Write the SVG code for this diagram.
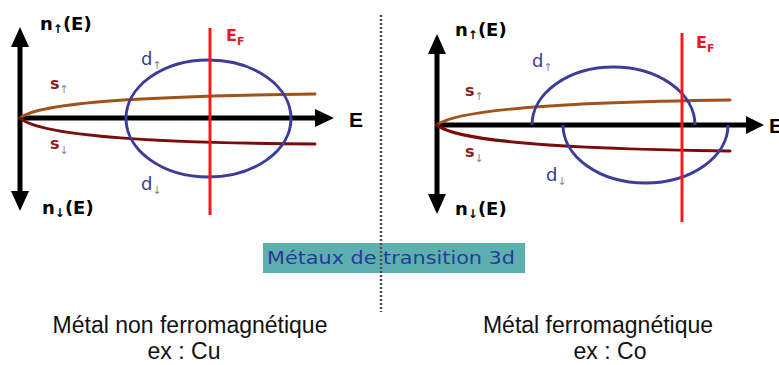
<svg xmlns="http://www.w3.org/2000/svg" width="779" height="365" viewBox="0 0 779 365">
<style>
.axis{stroke:#000;stroke-width:5;fill:none}
.head{fill:#000}
.sup{stroke:#a0521a;stroke-width:3;fill:none;stroke-linecap:round}
.sdn{stroke:#7a0c0c;stroke-width:3;fill:none;stroke-linecap:round}
.band{stroke:#3c3c9a;stroke-width:3;fill:none}
.ef{stroke:#ee1c1c;stroke-width:3}
.lab{font-family:"DejaVu Sans",sans-serif;font-weight:bold;font-size:18px;fill:#000}
.lbs{font-family:"DejaVu Sans",sans-serif;font-weight:bold;font-size:16px;fill:#8a1c1c}
.lbd{font-family:"DejaVu Sans",sans-serif;font-size:18px;fill:#3c3c9a}
.arr{font-size:11px;fill:#8a8a8a;font-weight:normal}
.arrb{font-size:12px;fill:#000;font-weight:bold}
.efl{font-family:"DejaVu Sans",sans-serif;font-weight:bold;font-size:16px;fill:#e01c1c}
.e{font-family:"Liberation Sans",sans-serif;font-weight:bold;font-size:21px;fill:#000}
.cap{font-family:"Liberation Sans",Arial,sans-serif;font-size:23px;fill:#111;text-anchor:middle}
</style>
<rect width="779" height="365" fill="#fff"/>

<g id="left-panel">
  <line class="axis" x1="20" y1="45" x2="20" y2="192"/>
  <polygon class="head" points="20,27 11,47 29,47"/>
  <polygon class="head" points="20,211 11,191 29,191"/>
  <line class="axis" x1="20" y1="118" x2="317" y2="118"/>
  <polygon class="head" points="334,118 315,109 315,127"/>
  <path class="sup" d="M20,118 C40,102 150,96 315,94"/>
  <path class="sdn" d="M20,118 C40,136 150,143 315,144"/>
  <ellipse class="band" cx="208.5" cy="118.5" rx="82.5" ry="58.5"/>
  <line class="ef" x1="210" y1="28" x2="210" y2="215"/>
  <text class="lab" x="40" y="30">n<tspan class="arrb" dy="3">↑</tspan><tspan dy="-3">(E)</tspan></text>
  <text class="lab" x="42" y="214">n<tspan class="arrb" dy="3">↓</tspan><tspan dy="-3">(E)</tspan></text>
  <text class="e" x="349" y="127">E</text>
  <text class="efl" x="226" y="41">E<tspan font-size="11" dy="4">F</tspan></text>
  <text class="lbs" x="50" y="89">s<tspan class="arr" dy="4">↑</tspan></text>
  <text class="lbs" x="50" y="149">s<tspan class="arr" dy="5">↓</tspan></text>
  <text class="lbd" x="141" y="65">d<tspan class="arr" dy="4">↑</tspan></text>
  <text class="lbd" x="141" y="190">d<tspan class="arr" dy="4">↓</tspan></text>
</g>

<g id="right-panel">
  <line class="axis" x1="437" y1="52" x2="437" y2="195"/>
  <polygon class="head" points="437,34 428,54 446,54"/>
  <polygon class="head" points="437,214 428,194 446,194"/>
  <line class="axis" x1="437" y1="125" x2="749" y2="125"/>
  <polygon class="head" points="764,125 746,116 746,134"/>
  <path class="sup" d="M437,125 C457,109 567,102 730,100"/>
  <path class="sdn" d="M437,125 C457,142 567,149 730,151"/>
  <path class="band" d="M532,125 A81.5,58 0 0 1 695,125"/>
  <path class="band" d="M563,125 A82.5,58 0 0 0 728,125"/>
  <line class="ef" x1="682" y1="33" x2="682" y2="222"/>
  <text class="lab" x="455" y="36">n<tspan class="arrb" dy="3">↑</tspan><tspan dy="-3">(E)</tspan></text>
  <text class="lab" x="455" y="215">n<tspan class="arrb" dy="3">↓</tspan><tspan dy="-3">(E)</tspan></text>
  <text class="e" x="769" y="133">E</text>
  <text class="efl" x="696" y="48">E<tspan font-size="11" dy="4">F</tspan></text>
  <text class="lbs" x="465" y="96">s<tspan class="arr" dy="4">↑</tspan></text>
  <text class="lbs" x="465" y="157">s<tspan class="arr" dy="5">↓</tspan></text>
  <text class="lbd" x="532" y="67">d<tspan class="arr" dy="4">↑</tspan></text>
  <text class="lbd" x="546" y="181">d<tspan class="arr" dy="4">↓</tspan></text>
</g>

<g id="legend">
  <rect x="263" y="243" width="262" height="30" fill="#5cb0b0"/>
  <text x="267" y="264" textLength="248" lengthAdjust="spacingAndGlyphs" font-family="DejaVu Sans, sans-serif" font-size="17" fill="#2a3a9a">Métaux de transition 3d</text>
  <line x1="381" y1="15" x2="381" y2="312" stroke="#554a4a" stroke-width="2.5" stroke-dasharray="2,2"/>
  <text class="cap" x="190" y="333">Métal non ferromagnétique</text>
  <text class="cap" x="184" y="359">ex : Cu</text>
  <text class="cap" x="598" y="333">Métal ferromagnétique</text>
  <text class="cap" x="610" y="359">ex : Co</text>
</g>
</svg>
